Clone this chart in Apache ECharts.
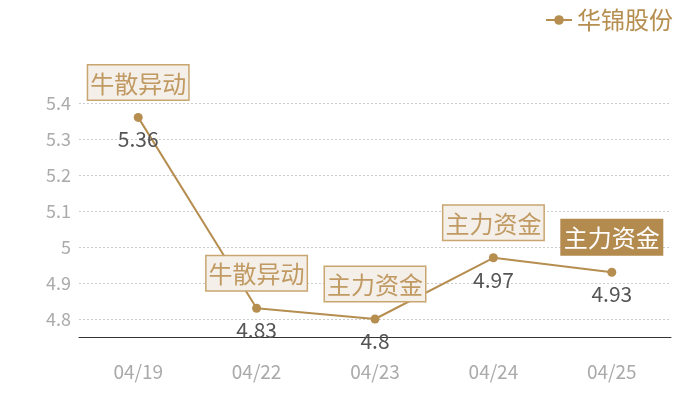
<!DOCTYPE html>
<html>
<head>
<meta charset="utf-8">
<script src="https://cdn.jsdelivr.net/npm/echarts@6/dist/echarts.min.js"></script>
<style>
  html, body { margin: 0; padding: 0; background: #fff; }
  #chart { width: 700px; height: 400px; }
</style>
</head>
<body>
<div id="chart"></div>
<script>
// data
const dates = ['04/19', '04/22', '04/23', '04/24', '04/25']
const prices = [5.36, 4.83, 4.8, 4.97, 4.93]
const tags = ['牛散异动', '牛散异动', '主力资金', '主力资金', '主力资金']
const highlighted = [false, false, false, false, true]

const gold = '#b68e50'
const font = '"Noto Sans CJK SC", "Noto Sans", sans-serif'

const tagData = prices.map(function (v, i) {
  const on = highlighted[i]
  return {
    value: v,
    label: {
      formatter: tags[i],
      color: on ? '#fff' : '#c09a62',
      backgroundColor: on ? '#b48b4e' : '#f4efe8',
      borderColor: on ? '#b48b4e' : '#c9a56f',
      borderWidth: 1.5
    }
  }
})

let myChart = echarts.init(document.getElementById('chart'))
myChart.setOption({
  textStyle: { fontFamily: font },
  animation: false,
  legend: {
    data: ['华锦股份'],
    right: 22,
    top: 3,
    itemWidth: 26,
    itemHeight: 12,
    itemGap: 6,
    textStyle: { color: gold, fontSize: 24, fontFamily: font }
  },
  grid: { left: 79, right: 29, top: 85, bottom: 63 },
  xAxis: {
    type: 'category',
    data: dates,
    axisLine: { lineStyle: { color: '#333', width: 1 } },
    axisTick: { show: false },
    axisLabel: { color: '#aaa', fontSize: 19, margin: 25, fontFamily: font }
  },
  yAxis: {
    type: 'value',
    min: 4.75,
    max: 5.45,
    axisLine: { show: false },
    axisTick: { show: false },
    axisLabel: {
      color: '#aaa', fontSize: 18, margin: 8, fontFamily: font,
      showMinLabel: false, showMaxLabel: false
    },
    splitLine: {
      showMinLine: false,
      showMaxLine: false,
      lineStyle: { color: '#ccc', type: [2, 2] }
    }
  },
  series: [
    {
      name: '华锦股份',
      type: 'line',
      data: prices,
      symbol: 'circle',
      symbolSize: 9,
      itemStyle: { color: gold },
      lineStyle: { color: gold, width: 2 },
      label: {
        show: true,
        position: 'bottom',
        distance: 7,
        color: '#555',
        fontSize: 21,
        fontFamily: font
      },
      z: 3
    },
    {
      name: 'tags',
      type: 'line',
      data: tagData,
      symbol: 'circle',
      symbolSize: 2,
      showSymbol: true,
      itemStyle: { color: 'rgba(0,0,0,0)' },
      lineStyle: { width: 0, color: 'rgba(0,0,0,0)' },
      silent: true,
      label: {
        show: true,
        position: 'top',
        distance: 17,
        fontSize: 24,
        fontFamily: font,
        padding: [2, 2, 0, 2],
        lineHeight: 32
      },
      z: 4
    }
  ]
})
</script>
</body>
</html>
